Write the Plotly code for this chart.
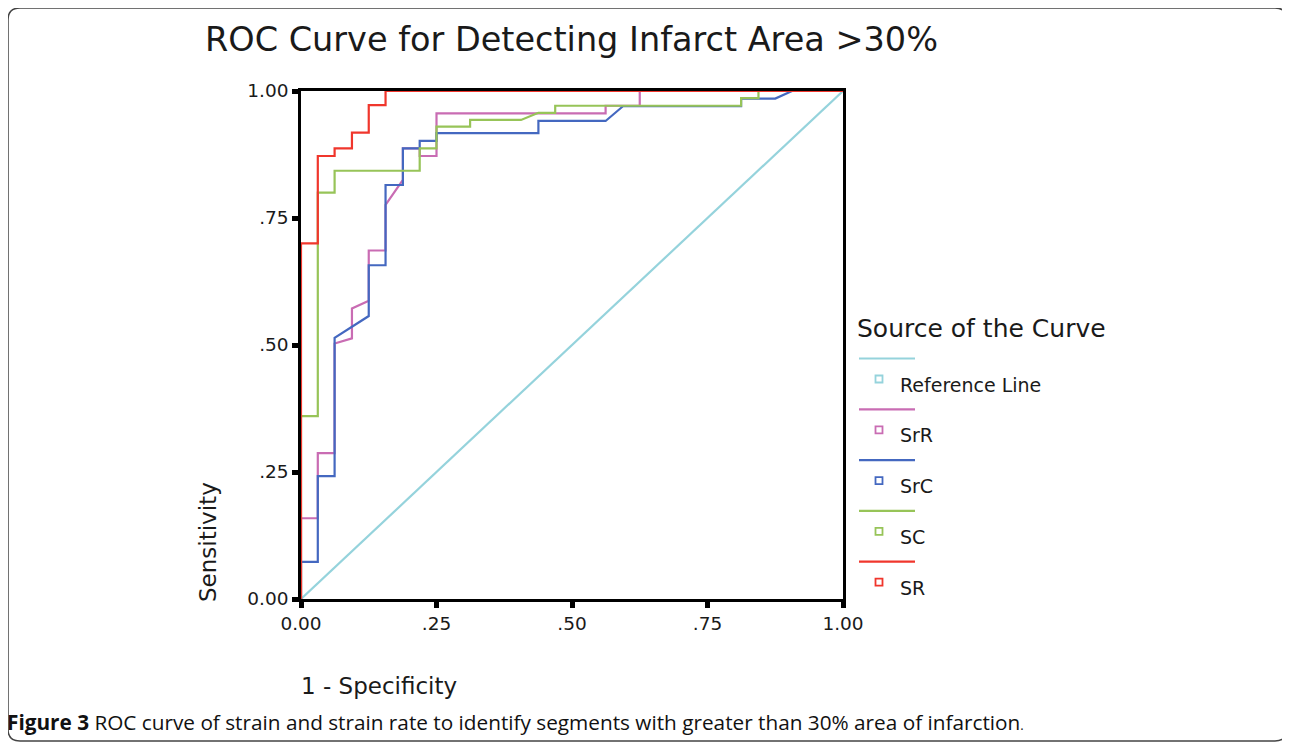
import plotly.graph_objects as go

# ---------------- data ----------------
ref_fpr = [0.0, 1.0]
ref_sens = [0.0, 1.0]

srr_fpr = [0, 0, 0.031, 0.031, 0.062, 0.062, 0.094, 0.094, 0.125, 0.125, 0.156, 0.156,
           0.188, 0.188, 0.219, 0.219, 0.25, 0.25, 0.562, 0.562, 0.625, 0.625, 1.0]
srr_sens = [0, 0.159, 0.159, 0.287, 0.287, 0.503, 0.513, 0.572, 0.587, 0.686, 0.686, 0.776,
            0.825, 0.887, 0.887, 0.872, 0.872, 0.956, 0.956, 0.971, 0.971, 1.0, 1.0]

src_fpr = [0, 0, 0.031, 0.031, 0.062, 0.062, 0.125, 0.125, 0.156, 0.156, 0.188, 0.188,
           0.219, 0.219, 0.25, 0.25, 0.438, 0.438, 0.562, 0.594, 0.812, 0.812, 0.875, 0.906, 1.0]
src_sens = [0, 0.073, 0.073, 0.242, 0.242, 0.514, 0.557, 0.657, 0.657, 0.815, 0.815, 0.887,
            0.887, 0.902, 0.902, 0.917, 0.917, 0.941, 0.941, 0.970, 0.970, 0.985, 0.985, 1.0, 1.0]

sc_fpr = [0, 0, 0.031, 0.031, 0.062, 0.062, 0.219, 0.219, 0.25, 0.25, 0.312, 0.312,
          0.406, 0.438, 0.469, 0.469, 0.812, 0.812, 0.844, 0.844, 1.0]
sc_sens = [0, 0.36, 0.36, 0.80, 0.80, 0.843, 0.843, 0.887, 0.887, 0.93, 0.93, 0.943,
           0.943, 0.957, 0.957, 0.971, 0.971, 0.986, 0.986, 1.0, 1.0]

sr_fpr = [0, 0, 0.031, 0.031, 0.062, 0.062, 0.094, 0.094, 0.125, 0.125, 0.156, 0.156, 1.0]
sr_sens = [0, 0.70, 0.70, 0.872, 0.872, 0.887, 0.887, 0.918, 0.918, 0.972, 0.972, 1.0, 1.0]

series_names = ["Reference Line", "SrR", "SrC", "SC", "SR"]
series_colors = ["#95D3DC", "#C96CB3", "#4468C0", "#97C458", "#F0362C"]
tick_vals = [0, 0.25, 0.5, 0.75, 1.0]
tick_text = ["0.00", ".25", ".50", ".75", "1.00"]

title_text = "ROC Curve for Detecting Infarct Area >30%"
x_title = "1 - Specificity"
y_title = "Sensitivity"
legend_title = "Source of the Curve"
caption = ("<b>Figure 3</b> ROC curve of strain and strain rate to identify segments "
           "with greater than 30% area of infarction<span style='font-size:13px'>.</span>")

# ---------------- figure ----------------
OFF = 8  # page body margin
W, H = 1282, 736
ML, MT = 293, 83
PW, PH = 542, 508
MR, MB = W - ML - PW, H - MT - PH


def px(x):
    return (x - OFF - ML) / PW


def py(y):
    return (H - MB - (y - OFF)) / PH


FONT = "DejaVu Sans"
TXT = "#1a1a1a"
fig = go.Figure()

all_x = [ref_fpr, srr_fpr, src_fpr, sc_fpr, sr_fpr]
all_y = [ref_sens, srr_sens, src_sens, sc_sens, sr_sens]
for name, col, xs, ys in zip(series_names, series_colors, all_x, all_y):
    fig.add_trace(go.Scatter(x=xs, y=ys, mode="lines", name=name,
                             line=dict(color=col, width=2.2), showlegend=False,
                             cliponaxis=False))

fig.update_layout(
    width=W, height=H,
    margin=dict(l=ML, r=MR, t=MT, b=MB, pad=0),
    paper_bgcolor="white", plot_bgcolor="white",
    showlegend=False,
    font=dict(family=FONT, color=TXT),
)
fig.update_xaxes(range=[0, 1], tickvals=tick_vals, ticktext=tick_text,
                 showgrid=False, zeroline=False, showline=True, linecolor="black",
                 linewidth=2.5, mirror=True, ticks="outside", ticklen=6, tickwidth=5,
                 tickcolor="black", tickfont=dict(size=18.5, family=FONT, color=TXT),
                 layer="below traces")
fig.update_yaxes(range=[0, 1], tickvals=tick_vals, ticktext=tick_text,
                 showgrid=False, zeroline=False, showline=True, linecolor="black",
                 linewidth=2.5, mirror=True, ticks="outside", ticklen=6, tickwidth=5,
                 tickcolor="black", tickfont=dict(size=18.5, family=FONT, color=TXT),
                 layer="above traces")

ann = []
ann.append(dict(text=title_text, x=px(571), y=py(40), xref="paper", yref="paper",
                xanchor="center", yanchor="middle", showarrow=False,
                font=dict(size=33.5, family=FONT, color=TXT)))
ann.append(dict(text=x_title, x=px(299), y=py(686), xref="paper", yref="paper",
                xanchor="left", yanchor="middle", showarrow=False,
                font=dict(size=23, family=FONT, color=TXT)))
ann.append(dict(text=y_title, x=px(208), y=py(542), xref="paper", yref="paper",
                xanchor="center", yanchor="middle", showarrow=False, textangle=-90,
                font=dict(size=23, family=FONT, color=TXT)))
ann.append(dict(text=legend_title, x=px(855), y=py(328), xref="paper", yref="paper",
                xanchor="left", yanchor="middle", showarrow=False,
                font=dict(size=25, family=FONT, color=TXT)))
ann.append(dict(text=caption, x=px(5), y=py(722), xref="paper", yref="paper",
                xanchor="left", yanchor="middle", showarrow=False,
                font=dict(size=20.75, family="Open Sans", color="#111111")))

shapes = []
for i, (name, col) in enumerate(zip(series_names, series_colors)):
    y0 = 358.5 + i * 50.8
    shapes.append(dict(type="line", xref="paper", yref="paper",
                       x0=px(859), x1=px(915), y0=py(y0), y1=py(y0),
                       line=dict(color=col, width=2.2)))
    shapes.append(dict(type="rect", xref="paper", yref="paper",
                       x0=px(875.5), x1=px(882.5), y0=py(y0 + 17), y1=py(y0 + 24),
                       line=dict(color=col, width=1.8), fillcolor="white"))
    ann.append(dict(text=name, x=px(898), y=py(y0 + 26), xref="paper", yref="paper",
                    xanchor="left", yanchor="middle", showarrow=False,
                    font=dict(size=19, family=FONT, color=TXT)))

# outer rounded frame
r = 12
x0f, x1f, y0f, y1f = 8, 1287, 8, 741
path = (f"M {px(x0f + r)},{py(y0f)} L {px(x1f - r)},{py(y0f)} "
        f"Q {px(x1f)},{py(y0f)} {px(x1f)},{py(y0f + r)} "
        f"L {px(x1f)},{py(y1f - r)} Q {px(x1f)},{py(y1f)} {px(x1f - r)},{py(y1f)} "
        f"L {px(x0f + r)},{py(y1f)} Q {px(x0f)},{py(y1f)} {px(x0f)},{py(y1f - r)} "
        f"L {px(x0f)},{py(y0f + r)} Q {px(x0f)},{py(y0f)} {px(x0f + r)},{py(y0f)} Z")
shapes.append(dict(type="path", xref="paper", yref="paper", path=path,
                   line=dict(color="#444444", width=1.5), layer="below"))

fig.update_layout(annotations=ann, shapes=shapes)
fig.write_html("out.html")
